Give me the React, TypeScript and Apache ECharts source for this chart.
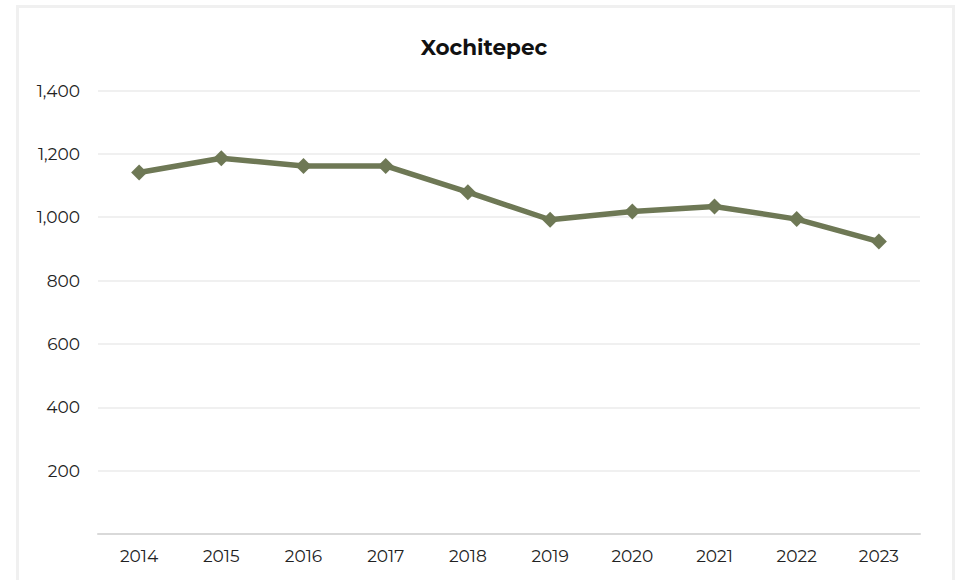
import React, { useEffect, useRef } from "react";
import * as echarts from "echarts";

const title = "Xochitepec";
const years = ["2014", "2015", "2016", "2017", "2018", "2019", "2020", "2021", "2022", "2023"];
const values = [1141, 1186, 1162, 1162, 1079, 992, 1018, 1034, 994, 923];

const FONT = "Montserrat, Inter, 'Noto Sans', sans-serif";

export default function App() {
  const ref = useRef<HTMLDivElement>(null);
  useEffect(() => {
    if (!ref.current) return;
    const chart = echarts.init(ref.current, undefined, { renderer: "svg" });
    chart.setOption({
      animation: false,
      backgroundColor: "#ffffff",
      title: {
        text: title,
        left: 479,
        textAlign: "center",
        top: 31,
        textStyle: { fontFamily: FONT, fontWeight: "bold", fontSize: 21.5, color: "#111" },
      },
      grid: { left: 98, right: 37, top: 90.5, bottom: 46, containLabel: false },
      xAxis: {
        type: "category",
        data: years,
        boundaryGap: true,
        axisLine: { show: true, lineStyle: { color: "#d9d9d9", width: 2 } },
        axisTick: { show: false },
        axisLabel: { fontFamily: FONT, fontSize: 17, color: "#222", margin: 13 },
        splitLine: { show: false },
      },
      yAxis: {
        type: "value",
        min: 0,
        max: 1400,
        interval: 200,
        axisLine: { show: false },
        axisTick: { show: false },
        axisLabel: {
          fontFamily: FONT,
          fontSize: 17,
          color: "#222",
          margin: 18,
          formatter: (v: number) => (v === 0 ? "" : v.toLocaleString("en-US")),
        },
        splitLine: { show: true, lineStyle: { color: "#f0f0f0", width: 2 } },
      },
      series: [
        {
          type: "line",
          data: values,
          symbol: "diamond",
          symbolSize: 16,
          lineStyle: { color: "#6e7855", width: 5.5 },
          itemStyle: { color: "#6e7855" },
          z: 3,
        },
      ],
    });
    return () => chart.dispose();
  }, []);
  return (
    <div style={{ position: "absolute", left: 0, top: 0, width: 957, height: 580, overflow: "hidden", background: "#fff" }}>
      <div ref={ref} style={{ position: "absolute", left: 0, top: 0, width: 957, height: 580 }} />
      <div
        style={{
          position: "absolute",
          left: 16,
          top: 5,
          width: 933,
          height: 600,
          border: "3px solid #f0f0f0",
          pointerEvents: "none",
        }}
      />
    </div>
  );
}
